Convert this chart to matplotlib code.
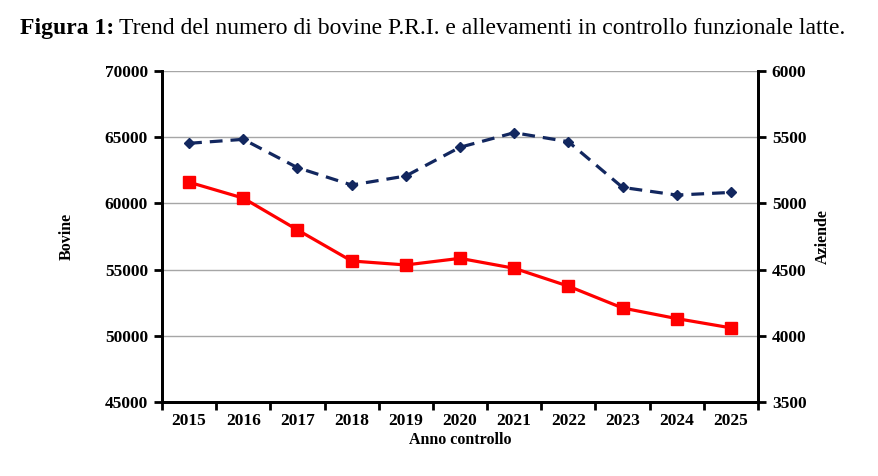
import matplotlib.pyplot as plt
import numpy as np

years = ['2015', '2016', '2017', '2018', '2019', '2020', '2021', '2022', '2023', '2024', '2025']
bovine = [64540, 64840, 62700, 61390, 62070, 64240, 65340, 64660, 61210, 60630, 60830]
aziende = [5160, 5040, 4800, 4565, 4535, 4585, 4510, 4375, 4210, 4130, 4060]

left_ticks = [45000, 50000, 55000, 60000, 65000, 70000]
right_ticks = [3500, 4000, 4500, 5000, 5500, 6000]

plt.rcParams['font.family'] = 'Liberation Serif'

fig = plt.figure(figsize=(8.79, 4.76), dpi=100)
ax1 = fig.add_axes([0.1843, 0.1555, 0.678, 0.6953])
ax2 = ax1.twinx()

x = np.arange(len(years))

# grid first so it stays behind the lines
for t in left_ticks[1:]:
    ax1.axhline(t, color='#a6a6a6', linewidth=1, zorder=0)

ax1.plot(x, bovine, linestyle=(0, (4, 2.5)), color='#12275f', linewidth=2.3,
         marker='D', markersize=5.5, zorder=3)
ax2.plot(x, aziende, linestyle='-', color='#ff0000', linewidth=2.3,
         marker='s', markersize=8, zorder=3)

ax1.set_xlim(-0.5, len(years) - 0.5)
ax1.set_ylim(45000, 70000)
ax2.set_ylim(3500, 6000)
ax1.set_yticks(left_ticks)
ax2.set_yticks(right_ticks)

# category labels centred, tick marks on the boundaries
ax1.set_xticks(np.arange(len(years) + 1) - 0.5)
ax1.set_xticklabels([])
ax1.set_xticks(x, minor=True)
ax1.set_xticklabels(years, minor=True, fontweight='bold', fontsize=12.5)
ax1.tick_params(axis='x', which='minor', length=0, pad=8)
ax1.tick_params(axis='x', which='major', length=6, width=2, direction='out')

ax1.tick_params(axis='y', length=6, width=2, direction='out', labelsize=12.5, pad=4)
ax2.tick_params(axis='y', length=6, width=2, direction='out', labelsize=12.5, pad=4)
for lab in ax1.get_yticklabels() + ax2.get_yticklabels():
    lab.set_fontweight('bold')

for ax in (ax1, ax2):
    ax.spines['top'].set_visible(False)
    for s in ('left', 'right', 'bottom'):
        ax.spines[s].set_linewidth(2)
        ax.spines[s].set_color('black')

ax1.set_ylabel('Bovine', fontweight='bold', fontsize=11.5, labelpad=22)
ax2.set_ylabel('Aziende', fontweight='bold', fontsize=11.5, labelpad=6, rotation=90)
ax1.set_xlabel('Anno controllo', fontweight='bold', fontsize=11.5, labelpad=2)

t1 = fig.text(0.023, 0.94, 'Figura 1:', fontweight='bold', fontsize=17, va='center')
fig.canvas.draw()
bb = t1.get_window_extent(fig.canvas.get_renderer())
fig.text((bb.x1 + 5) / fig.bbox.width, 0.94,
         'Trend del numero di bovine P.R.I. e allevamenti in controllo funzionale latte.',
         fontsize=17, va='center')

plt.savefig('out.png', dpi=100)
